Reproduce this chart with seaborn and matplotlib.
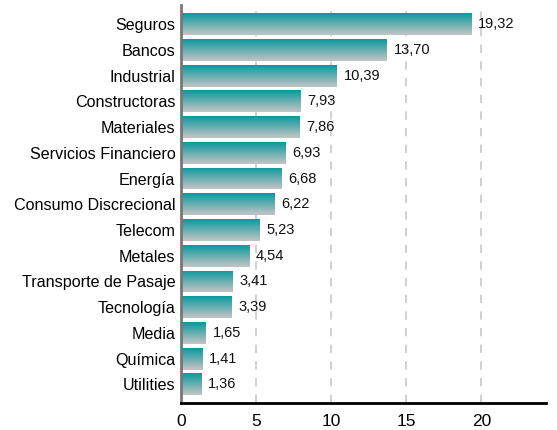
import numpy as np
import matplotlib
matplotlib.use("Agg")
import matplotlib.pyplot as plt
import pandas as pd
import seaborn as sns
from matplotlib.colors import LinearSegmentedColormap

sectores = ["Seguros", "Bancos", "Industrial", "Constructoras", "Materiales",
            "Servicios Financiero", "Energía", "Consumo Discrecional", "Telecom",
            "Metales", "Transporte de Pasaje", "Tecnología", "Media", "Química",
            "Utilities"]
valores = [19.32, 13.70, 10.39, 7.93, 7.86, 6.93, 6.68, 6.22, 5.23, 4.54,
           3.41, 3.39, 1.65, 1.41, 1.36]
xticks = [0, 5, 10, 15, 20]

df = pd.DataFrame({"sector": sectores, "valor": valores})

sns.set_style("white")
plt.rcParams["font.family"] = ["Liberation Sans", "DejaVu Sans"]

fig = plt.figure(figsize=(5.57, 4.3), dpi=100)
ax = fig.add_axes([0.325, 0.063, 0.655, 0.925])

sns.barplot(data=df, x="valor", y="sector", orient="h", color="#0a9a9e",
            width=0.85, ax=ax)

# gradient fill: teal at top, grey at bottom
cmap = LinearSegmentedColormap.from_list("tg", ["#0a9a9e", "#c4c4c4"])
grad = np.linspace(0, 1, 64).reshape(-1, 1)
for p in ax.patches:
    x0, y0 = p.get_x(), p.get_y()
    w, h = p.get_width(), p.get_height()
    p.set_facecolor("none")
    p.set_edgecolor("none")
    im = ax.imshow(grad, cmap=cmap, aspect="auto", extent=[x0, x0 + w, y0 + h, y0],
                   origin="upper", zorder=2)
    im.set_clip_path(p)

for i, v in enumerate(valores):
    ax.text(v + 0.45, i, f"{v:.2f}".replace(".", ","), va="center", ha="left",
            fontsize=10.5, color="#111111")

ax.set_xlim(0, 24.3)
ax.set_ylim(14.72, -0.74)
ax.set_xticks(xticks)
ax.set_xticklabels([str(t) for t in xticks], fontsize=12.5)
ax.tick_params(axis="y", labelsize=11.6, length=0, pad=4, labelcolor="black")
ax.tick_params(axis="x", length=5, width=1.5, direction="out", color="black", pad=3,
               labelcolor="black")
for t in xticks[1:]:
    ax.axvline(t, color="#c8c8c8", linestyle=(0, (5, 5)), linewidth=1.2, zorder=0)
ax.set_xlabel("")
ax.set_ylabel("")
for s in ["top", "right"]:
    ax.spines[s].set_visible(False)
ax.spines["bottom"].set_color("black")
ax.spines["bottom"].set_linewidth(2)
ax.spines["left"].set_color("#777777")
ax.spines["left"].set_linewidth(2)

fig.savefig("out.png", dpi=100)
